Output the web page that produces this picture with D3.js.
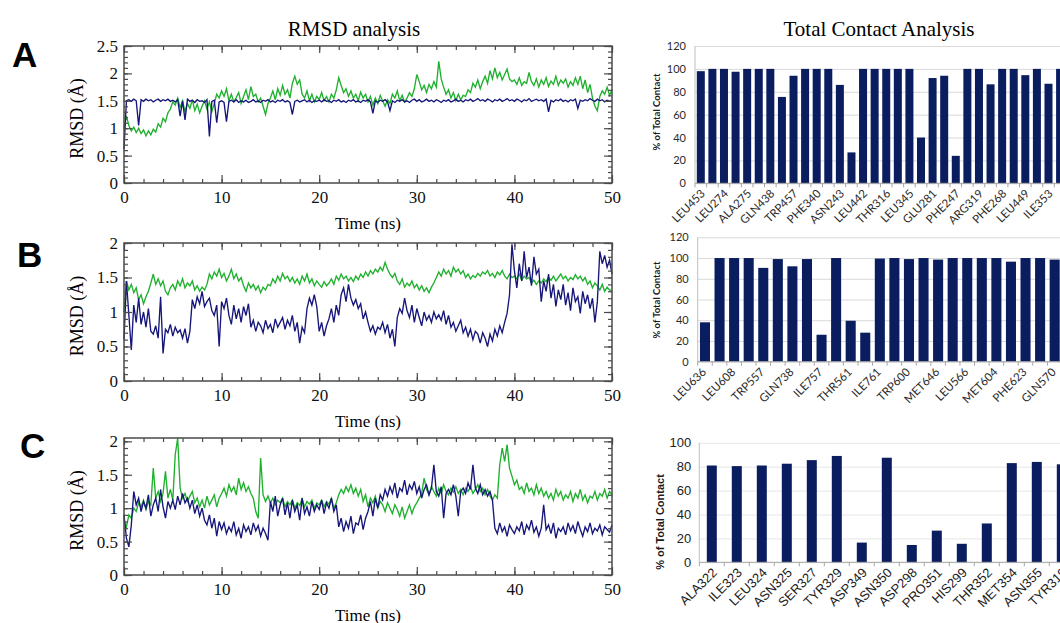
<!DOCTYPE html>
<html>
<head>
<meta charset="utf-8">
<script src="https://cdn.jsdelivr.net/npm/d3@7/dist/d3.min.js"></script>
<style>
  body { margin: 0; background: #fff; }
</style>
</head>
<body>
<svg></svg>
<script>
// RMSD traces, one value every 0.25 ns from 0 to 50 ns
var timeStep = 0.25;

var aGreen = [
 1.00,1.22,1.05,0.95,1.02,0.92,1.00,0.90,0.97,0.86,0.95,0.88,0.98,0.93,1.08,1.02,1.18,1.12,1.28,1.35,
 1.48,1.42,1.55,1.38,1.50,1.30,1.45,1.36,1.52,1.32,1.44,1.28,1.40,1.50,1.35,1.48,1.30,1.45,1.62,1.55,
 1.68,1.58,1.72,1.50,1.62,1.48,1.56,1.65,1.45,1.58,1.70,1.52,1.76,1.58,1.62,1.48,1.55,1.40,1.25,1.45,
 1.55,1.68,1.52,1.72,1.60,1.78,1.62,1.70,1.55,1.82,1.95,1.80,1.88,1.62,1.55,1.68,1.50,1.62,1.48,1.58,
 1.52,1.65,1.50,1.58,1.48,1.62,1.55,1.70,1.92,1.78,1.65,1.72,1.58,1.68,1.55,1.62,1.50,1.66,1.55,1.62,
 1.48,1.58,1.42,1.55,1.45,1.60,1.50,1.40,1.52,1.45,1.62,1.55,1.68,1.50,1.60,1.48,1.55,1.65,1.58,1.72,
 1.98,1.85,1.70,1.78,1.65,1.80,1.72,1.85,1.75,2.22,1.90,1.75,1.62,1.70,1.55,1.65,1.50,1.62,1.52,1.60,
 1.58,1.70,1.65,1.82,1.75,1.88,1.72,1.85,1.95,1.82,2.05,1.90,2.10,1.92,2.02,1.88,1.98,2.08,1.90,1.85,
 1.88,1.80,1.92,1.78,1.85,1.82,2.02,1.85,1.78,1.90,1.75,1.88,1.80,1.92,1.76,1.86,1.80,1.95,1.78,1.88,
 1.82,1.90,1.75,1.85,1.78,1.92,1.80,1.95,1.72,1.88,1.65,1.80,1.55,1.40,1.32,1.58,1.68,1.62,1.75,1.60,
 1.70];
var aBlue = [
 0.62,1.50,1.52,1.49,1.53,1.50,1.05,1.52,1.49,1.53,1.50,1.52,1.48,1.51,1.53,1.49,1.52,1.50,1.53,1.49,
 1.51,1.48,1.52,1.22,1.50,1.15,1.53,1.49,1.51,1.47,1.52,1.49,1.50,1.47,1.52,0.85,1.49,1.51,1.10,1.48,
 1.50,1.47,1.12,1.49,1.51,1.48,1.52,1.47,1.50,1.48,1.51,1.47,1.49,1.52,1.48,1.50,1.47,1.51,1.49,1.52,
 1.48,1.50,1.47,1.51,1.49,1.52,1.48,1.50,1.47,1.25,1.49,1.51,1.48,1.50,1.52,1.48,1.51,1.47,1.50,1.49,
 1.51,1.48,1.52,1.49,1.50,1.47,1.51,1.49,1.52,1.48,1.50,1.47,1.51,1.49,1.52,1.48,1.50,1.47,1.51,1.49,
 1.52,1.48,1.27,1.50,1.47,1.51,1.49,1.52,1.48,1.32,1.50,1.47,1.51,1.49,1.52,1.48,1.50,1.47,1.51,1.53,
 1.49,1.52,1.48,1.50,1.53,1.49,1.51,1.48,1.52,1.50,1.47,1.51,1.49,1.52,1.48,1.50,1.53,1.49,1.51,1.48,
 1.52,1.50,1.53,1.49,1.51,1.54,1.50,1.52,1.49,1.53,1.51,1.48,1.52,1.50,1.53,1.49,1.51,1.54,1.50,1.52,
 1.49,1.53,1.51,1.48,1.52,1.50,1.54,1.49,1.51,1.53,1.50,1.52,1.49,1.53,1.30,1.51,1.48,1.52,1.50,1.53,
 1.49,1.51,1.48,1.52,1.50,1.53,1.36,1.51,1.49,1.52,1.50,1.54,1.51,1.49,1.53,1.50,1.52,1.48,1.51,1.49,
 1.50];

var bGreen = [
 1.00,1.45,1.32,1.40,1.28,1.35,1.18,1.25,1.12,1.22,1.30,1.42,1.55,1.40,1.48,1.38,1.45,1.30,1.25,1.35,
 1.40,1.32,1.45,1.38,1.48,1.35,1.42,1.38,1.45,1.32,1.38,1.30,1.36,1.32,1.40,1.55,1.48,1.58,1.52,1.62,
 1.50,1.56,1.45,1.52,1.62,1.48,1.55,1.45,1.50,1.38,1.30,1.42,1.35,1.40,1.32,1.38,1.28,1.36,1.32,1.40,
 1.38,1.48,1.42,1.52,1.45,1.56,1.48,1.52,1.44,1.50,1.42,1.48,1.40,1.52,1.45,1.55,1.42,1.48,1.38,1.45,
 1.40,1.36,1.44,1.38,1.42,1.48,1.40,1.52,1.46,1.55,1.48,1.52,1.45,1.50,1.44,1.52,1.47,1.55,1.50,1.58,
 1.52,1.60,1.55,1.62,1.58,1.65,1.60,1.72,1.62,1.55,1.50,1.56,1.45,1.40,1.48,1.36,1.42,1.38,1.45,1.35,
 1.40,1.32,1.38,1.30,1.35,1.28,1.36,1.42,1.50,1.58,1.52,1.62,1.55,1.60,1.52,1.65,1.58,1.62,1.55,1.60,
 1.50,1.55,1.48,1.53,1.50,1.56,1.52,1.58,1.55,1.60,1.52,1.56,1.50,1.58,1.54,1.60,1.52,1.48,1.55,1.50,
 1.52,1.48,1.55,1.46,1.52,1.48,1.50,1.42,1.46,1.40,1.45,1.42,1.48,1.44,1.50,1.46,1.52,1.45,1.50,1.55,
 1.48,1.52,1.45,1.50,1.47,1.54,1.48,1.52,1.45,1.50,1.40,1.45,1.35,1.42,1.38,1.32,1.40,1.30,1.36,1.32,
 1.30];
var bBlue = [
 0.60,1.45,0.95,0.45,1.10,0.85,1.20,0.82,1.00,0.78,1.05,0.72,0.68,0.80,0.62,1.22,0.40,0.75,0.70,0.82,
 0.65,0.78,0.70,0.74,0.62,0.76,0.55,0.72,1.18,1.05,1.22,1.12,1.30,1.08,1.15,1.20,1.02,0.95,1.10,0.50,
 1.15,1.05,1.20,0.95,0.82,1.10,0.90,1.05,0.85,1.08,0.95,1.12,0.78,0.88,0.72,0.85,0.80,0.70,0.88,0.76,
 0.82,0.70,0.90,0.78,0.85,0.92,0.75,0.88,0.80,0.95,0.72,0.85,0.55,0.78,0.70,1.05,1.20,1.10,1.25,1.08,
 0.72,0.85,0.65,0.80,0.90,1.05,0.85,1.10,0.95,1.25,1.35,1.15,1.40,1.20,1.10,1.18,1.05,1.12,0.90,1.00,
 0.85,0.72,0.80,0.68,0.78,0.75,0.85,0.70,0.82,0.62,0.75,0.50,0.92,1.05,0.98,1.20,1.02,0.92,1.10,0.85,
 1.05,0.92,0.80,1.00,0.88,0.95,0.85,1.00,0.90,0.96,0.88,1.02,0.82,0.95,0.78,0.85,0.72,0.80,0.88,0.70,
 0.78,0.65,0.75,0.60,0.72,0.68,0.55,0.70,0.62,0.50,0.68,0.58,0.75,0.65,0.80,0.70,0.85,0.98,1.25,1.98,
 1.60,1.35,1.70,1.45,1.88,1.50,1.65,1.38,1.80,1.55,1.62,1.15,1.45,1.30,1.55,1.20,1.40,1.08,1.32,1.18,
 1.40,1.10,1.28,1.02,1.35,1.15,1.22,0.98,1.30,1.12,1.25,1.05,1.20,0.85,1.15,1.88,1.70,1.82,1.65,1.75,
 1.55];

var cGreen = [
 0.80,0.72,0.90,0.85,1.00,0.95,1.08,1.02,1.12,0.98,1.10,1.05,1.60,1.15,1.25,1.10,1.22,1.55,1.15,1.28,
 1.12,1.80,2.05,1.30,1.15,1.22,1.10,1.18,1.25,1.08,1.15,1.02,1.12,1.00,1.18,1.05,1.12,1.20,1.02,1.15,
 1.22,1.30,1.18,1.35,1.25,1.32,1.20,1.45,1.28,1.38,1.25,1.32,1.22,1.15,0.95,0.85,1.75,1.20,1.10,1.18,
 1.08,1.15,1.05,1.12,1.08,1.15,1.02,1.10,1.05,1.12,1.00,1.08,1.04,1.14,1.02,1.10,1.06,1.12,1.00,1.08,
 1.05,1.12,1.02,1.10,1.06,1.15,1.00,1.08,1.20,1.28,1.22,1.32,1.25,1.35,1.22,1.30,1.18,1.28,1.10,1.20,
 1.02,1.15,1.08,1.18,1.00,1.10,1.05,0.95,1.08,1.00,0.92,1.05,0.98,0.88,1.02,0.85,0.95,1.05,0.92,1.02,
 1.08,1.15,1.22,1.45,1.28,1.20,1.32,1.25,1.18,1.30,1.22,1.35,1.25,1.20,1.30,1.24,1.32,1.22,1.28,1.20,
 1.30,1.25,1.32,1.22,1.28,1.35,1.25,1.30,1.20,1.28,1.18,1.12,1.20,1.15,1.65,1.90,1.70,1.95,1.60,1.48,
 1.35,1.42,1.28,1.32,1.22,1.38,1.25,1.30,1.20,1.35,1.22,1.30,1.18,1.25,1.15,1.22,1.12,1.28,1.18,1.25,
 1.12,1.20,1.15,1.25,1.10,1.22,1.15,1.28,1.12,1.20,1.08,1.18,1.15,1.25,1.12,1.22,1.18,1.28,1.15,1.25,
 1.20];
var cBlue = [
 0.90,0.55,0.42,0.75,1.25,1.05,1.15,0.95,1.10,1.00,1.20,0.88,1.05,1.15,0.95,1.28,1.02,0.85,1.10,1.00,
 1.12,0.98,1.18,1.05,1.22,1.08,1.15,1.00,1.12,0.92,1.05,0.88,1.00,0.82,0.75,0.90,0.70,0.85,0.58,0.80,
 0.68,0.78,0.62,0.72,0.65,0.80,0.60,0.70,0.55,0.75,0.65,0.72,0.60,0.78,0.66,0.74,0.58,0.70,0.62,0.52,
 1.10,0.95,1.18,0.88,1.05,1.15,0.90,1.08,0.85,1.12,0.95,1.05,0.82,1.15,0.92,1.02,0.88,1.10,0.95,1.05,
 0.98,1.12,0.92,1.08,1.00,1.15,0.95,1.05,0.72,0.85,0.65,0.80,0.70,0.88,0.62,0.78,0.75,0.90,0.68,0.85,
 0.95,1.10,0.88,1.15,1.00,1.20,1.12,1.28,1.18,1.32,1.22,1.38,1.15,1.30,1.25,1.42,1.20,1.35,1.28,1.40,
 1.22,1.32,1.15,1.28,1.35,1.20,1.30,1.65,1.25,1.18,1.32,0.85,1.22,1.28,1.20,1.35,1.18,0.88,1.25,1.30,
 1.22,1.38,1.28,1.65,1.30,1.22,1.35,1.20,1.28,1.18,1.25,1.12,0.70,0.62,0.78,0.65,0.72,0.58,0.75,0.68,
 0.62,0.72,0.66,0.80,0.60,0.75,0.68,0.82,0.64,0.72,0.58,0.70,1.05,0.68,0.75,0.62,0.78,0.55,0.70,0.65,
 0.72,0.60,0.78,0.66,0.74,0.62,0.80,0.68,0.58,0.72,0.65,0.78,0.62,0.70,0.66,0.75,0.60,0.72,0.68,0.64,
 0.75];

// contact percentages (A and B: only every other residue is labelled)
var aContacts = [98,100,100,97.5,100,100,100,75.5,94,100,100,100,86,27,100,100,
                 100,100,100,40,92,94,24,100,100,86.5,100,100,94.5,100,87,100];
var aLabels = ["LEU453","LEU274","ALA275","GLN438","TRP457","PHE340","ASN243","LEU442",
               "THR316","LEU345","GLU281","PHE247","ARG319","PHE268","LEU449","ILE353"];

var bContacts = [38,100,100,100,90.5,99,92,99,26,100,39.5,28,99.5,100,99,100,98.5,
                 100,100,100,100,96.5,100,100,98.5];
var bLabels = ["LEU636","LEU608","TRP557","GLN738","ILE757","THR561","ILE761",
               "TRP600","MET646","LEU566","MET604","PHE623","GLN570"];

var cContacts = [81,80.5,81,82.5,85.5,89,16.5,87.5,14.5,26.5,15.5,32.5,83,84,82];
var cLabels = ["ALA322","ILE323","LEU324","ASN325","SER327","TYR329","ASP349","ASN350",
               "ASP298","PRO351","HIS299","THR352","MET354","ASN355","TYR319"];

var rmsdTicksA = [0, 0.5, 1, 1.5, 2, 2.5];
var rmsdTicksBC = [0, 0.5, 1, 1.5, 2];
var timeTicks = [0, 10, 20, 30, 40, 50];
var pctTicks120 = [0, 20, 40, 60, 80, 100, 120];
var pctTicks100 = [0, 20, 40, 60, 80, 100];

var svgWidth = 1060, svgHeight = 623;
var greenColor = "#1fb02e", blueColor = "#15157a", barColor = "#0a1d5e";
var serif = "'Liberation Serif', 'Times New Roman', serif";

var svg = d3.select("svg")
    .attr("width", svgWidth)
    .attr("height", svgHeight)
    .style("font-family", serif);

svg.append("rect").attr("width", svgWidth).attr("height", svgHeight).attr("fill", "#fff");

// column titles
svg.append("text").attr("x", 354).attr("y", 36).attr("text-anchor", "middle")
    .style("font-size", "21px").text("RMSD analysis");
svg.append("text").attr("x", 879).attr("y", 36).attr("text-anchor", "middle")
    .style("font-size", "21px").text("Total Contact Analysis");

function rmsdPanel(p) {
  var x = d3.scaleLinear().domain([0, 50]).range([124, 612]);
  var y = d3.scaleLinear().domain([0, p.yMax]).range([p.bottom, p.top]);
  var g = svg.append("g");

  var line = d3.line()
      .x(function(d, i) { return x(i * timeStep); })
      .y(function(d) { return y(d); });

  g.append("path").datum(p.green).attr("d", line)
      .attr("fill", "none").attr("stroke", greenColor).attr("stroke-width", 1.35);
  g.append("path").datum(p.blue).attr("d", line)
      .attr("fill", "none").attr("stroke", blueColor).attr("stroke-width", 1.35);

  var xMinor = d3.range(0, 51, 2);
  var yMinor = d3.range(0, p.yMax + 0.001, 0.1);

  // inward ticks on all four sides
  g.append("g").attr("transform", "translate(0," + p.bottom + ")")
      .call(d3.axisBottom(x).tickValues(xMinor).tickSize(-4).tickFormat(""));
  g.append("g").attr("transform", "translate(0," + p.bottom + ")")
      .call(d3.axisBottom(x).tickValues(timeTicks).tickSize(-8).tickPadding(8).tickFormat(d3.format("d")));
  g.append("g").attr("transform", "translate(0," + p.top + ")")
      .call(d3.axisTop(x).tickValues(xMinor).tickSize(-4).tickFormat(""));
  g.append("g").attr("transform", "translate(0," + p.top + ")")
      .call(d3.axisTop(x).tickValues(timeTicks).tickSize(-7).tickFormat(""));
  g.append("g").attr("transform", "translate(124,0)")
      .call(d3.axisLeft(y).tickValues(yMinor).tickSize(-4).tickFormat(""));
  g.append("g").attr("transform", "translate(124,0)")
      .call(d3.axisLeft(y).tickValues(p.yTicks).tickSize(-8).tickPadding(6).tickFormat(d3.format("~g")));
  g.append("g").attr("transform", "translate(612,0)")
      .call(d3.axisRight(y).tickValues(yMinor).tickSize(-4).tickFormat(""));
  g.append("g").attr("transform", "translate(612,0)")
      .call(d3.axisRight(y).tickValues(p.yTicks).tickSize(-8).tickFormat(""));

  g.selectAll(".domain").remove();
  g.selectAll(".tick line").attr("stroke", "#4a4a4a").attr("stroke-width", 1.2);
  g.selectAll(".tick text").attr("fill", "#111").style("font-family", serif).style("font-size", "17px");

  g.append("rect").attr("x", 124).attr("y", p.top)
      .attr("width", 488).attr("height", p.bottom - p.top)
      .attr("fill", "none").attr("stroke", "#4a4a4a").attr("stroke-width", 1.5);

  g.append("text").attr("x", 368).attr("y", p.bottom + 46).attr("text-anchor", "middle")
      .style("font-size", "17px").text("Time (ns)");
  g.append("text")
      .attr("transform", "translate(83," + ((p.top + p.bottom) / 2 + 4) + ") rotate(-90)")
      .attr("text-anchor", "middle").style("font-size", "18px").text("RMSD (Å)");

  svg.append("text").attr("x", p.letterX).attr("y", p.letterY)
      .style("font-family", "'Liberation Sans', Arial, sans-serif")
      .style("font-weight", "bold").style("font-size", "35px").text(p.letter);
}

function contactPanel(p) {
  var n = p.values.length;
  var x = d3.scaleBand().domain(d3.range(n))
      .range([p.left, p.left + p.step * n])
      .paddingInner(p.pad).paddingOuter(p.pad / 2);
  var y = d3.scaleLinear().domain([0, p.yMax]).range([p.bottom, p.top]);
  var g = svg.append("g").style("font-family", p.font);

  // gridlines + y labels
  var ya = g.append("g").attr("transform", "translate(" + p.left + ",0)")
      .call(d3.axisLeft(y).tickValues(p.yTicks).tickSize(-(svgWidth - p.left)).tickPadding(p.tickPad));
  ya.select(".domain").remove();
  ya.selectAll(".tick line").attr("stroke", p.gridColor);
  ya.selectAll(".tick text").attr("fill", p.textColor).style("font-family", p.font).style("font-size", p.tickFont);

  g.append("line").attr("x1", p.left).attr("x2", p.left)
      .attr("y1", p.top).attr("y2", p.bottom).attr("stroke", "#bfbfbf");

  g.selectAll(".bar").data(p.values).enter().append("rect")
      .attr("class", "bar")
      .attr("x", function(d, i) { return x(i); })
      .attr("y", function(d) { return y(d); })
      .attr("width", x.bandwidth())
      .attr("height", function(d) { return p.bottom - y(d); })
      .attr("fill", barColor);

  g.append("line").attr("x1", p.left).attr("x2", svgWidth)
      .attr("y1", p.bottom).attr("y2", p.bottom).attr("stroke", "#a6a6a6");
  g.selectAll(".cat-tick").data(d3.range(n + 1)).enter().append("line")
      .attr("x1", function(i) { return p.left + i * x.step(); })
      .attr("x2", function(i) { return p.left + i * x.step(); })
      .attr("y1", p.bottom).attr("y2", p.bottom + 4).attr("stroke", "#a6a6a6");

  g.selectAll(".cat-label").data(p.labels).enter().append("text")
      .attr("text-anchor", "end")
      .attr("transform", function(d, k) {
        var cx = x(k * p.every) + x.bandwidth() / 2 + p.labelDx;
        return "translate(" + cx + "," + (p.bottom + p.labelDy) + ") rotate(-45)";
      })
      .attr("fill", p.textColor)
      .style("font-size", p.labelFont)
      .text(function(d) { return d; });

  g.append("text")
      .attr("transform", "translate(" + p.titleX + "," + p.titleY + ") rotate(-90)")
      .attr("text-anchor", "middle")
      .attr("fill", "#1a1a1a")
      .style("font-weight", "bold").style("font-size", p.titleFont)
      .text("% of Total Contact");
}

rmsdPanel({ top: 46, bottom: 183, yMax: 2.5, yTicks: rmsdTicksA, green: aGreen, blue: aBlue,
            letter: "A", letterX: 12, letterY: 67 });
rmsdPanel({ top: 243, bottom: 381, yMax: 2, yTicks: rmsdTicksBC, green: bGreen, blue: bBlue,
            letter: "B", letterX: 17, letterY: 267 });
rmsdPanel({ top: 438, bottom: 575, yMax: 2.05, yTicks: rmsdTicksBC, green: cGreen, blue: cBlue,
            letter: "C", letterX: 20, letterY: 458 });

var calibriLike = "Lato, 'Open Sans', sans-serif";
contactPanel({ values: aContacts, labels: aLabels, every: 2, left: 695, step: 11.59, pad: 0.31,
               top: 46, bottom: 183.3, yMax: 120, yTicks: pctTicks120, tickPad: 9,
               font: calibriLike, tickFont: "11px", labelFont: "11.5px", textColor: "#2b2b2b",
               gridColor: "#d9d9d9", labelDx: 5, labelDy: 11,
               titleX: 660, titleY: 112, titleFont: "9.5px" });
contactPanel({ values: bContacts, labels: bLabels, every: 2, left: 697.7, step: 14.57, pad: 0.31,
               top: 237.3, bottom: 361.7, yMax: 120, yTicks: pctTicks120, tickPad: 9,
               font: calibriLike, tickFont: "11px", labelFont: "11.5px", textColor: "#2b2b2b",
               gridColor: "#d9d9d9", labelDx: 2, labelDy: 11,
               titleX: 660, titleY: 300, titleFont: "9.5px" });
contactPanel({ values: cContacts, labels: cLabels, every: 1, left: 699.3, step: 25, pad: 0.6,
               top: 442.8, bottom: 562.3, yMax: 100, yTicks: pctTicks100, tickPad: 8,
               font: "'Liberation Sans', Arial, sans-serif", tickFont: "13px", labelFont: "13px",
               textColor: "#222", gridColor: "#e6e6e6", labelDx: 6, labelDy: 11,
               titleX: 664, titleY: 522, titleFont: "11px" });
</script>
</body>
</html>
